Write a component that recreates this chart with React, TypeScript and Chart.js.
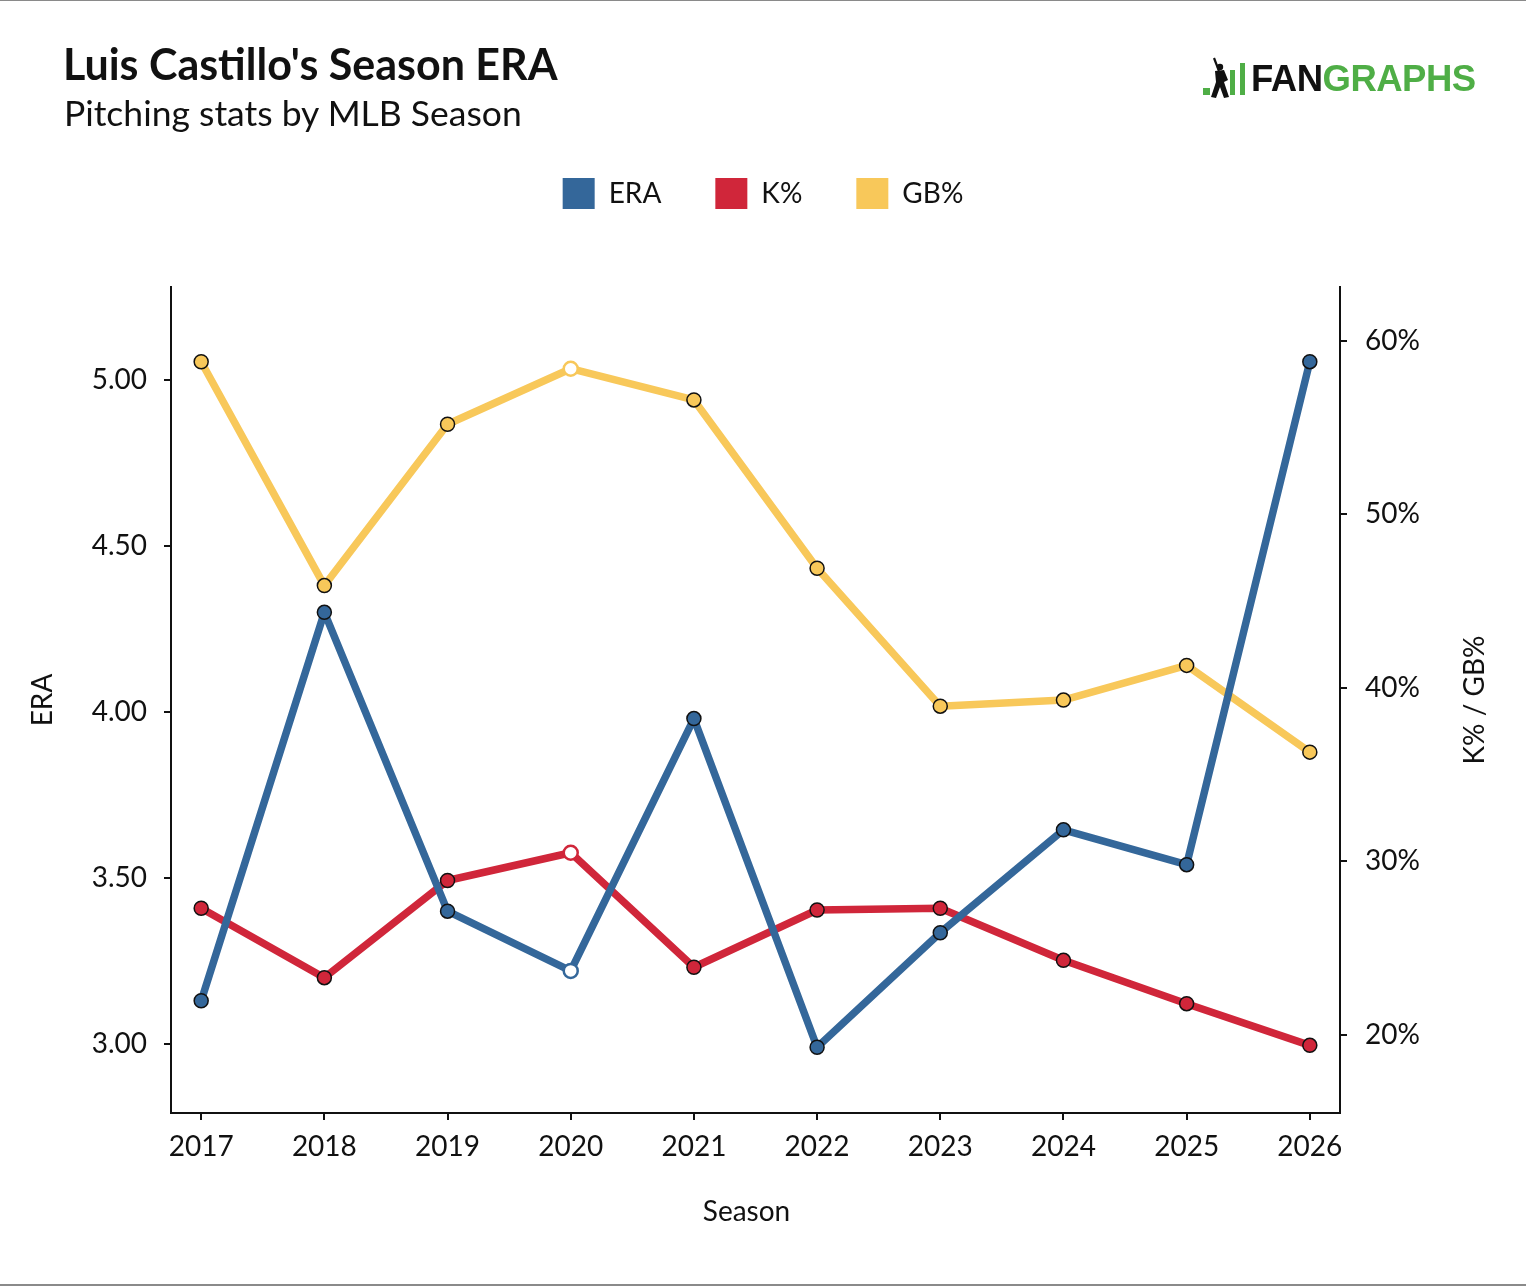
import React, { useEffect, useRef } from 'react';
import { Chart, registerables } from 'chart.js';

Chart.register(...registerables);

const SEASONS = [2017, 2018, 2019, 2020, 2021, 2022, 2023, 2024, 2025, 2026];
const ERA = [3.13, 4.30, 3.40, 3.22, 3.98, 2.99, 3.335, 3.645, 3.54, 5.055];
const K_PCT = [27.3, 23.3, 28.9, 30.5, 23.9, 27.2, 27.3, 24.3, 21.8, 19.4];
const GB_PCT = [58.8, 45.9, 55.2, 58.4, 56.6, 46.9, 38.95, 39.3, 41.3, 36.3];
const ERA_TICKS = [3, 3.5, 4, 4.5, 5];
const PCT_TICKS = [20, 30, 40, 50, 60];
const HIGHLIGHT_SEASON = 2020;

const COLORS = { era: '#34679a', k: '#d0263a', gb: '#f8c85a' };
const INK = '#111111';
const FONT = 'Lato, "Noto Sans", sans-serif';

const W = 1526;
const H = 1286;

function makeDataset(label: string, values: number[], color: string, axis: string) {
  return {
    label,
    data: SEASONS.map((s, i) => ({ x: s, y: values[i] })),
    yAxisID: axis,
    borderColor: color,
    backgroundColor: color,
    borderWidth: 7.5,
    borderCapStyle: 'round',
    borderJoinStyle: 'round',
    tension: 0,
    pointRadius: 7,
    pointHoverRadius: 7,
    pointBackgroundColor: SEASONS.map((s) => (s === HIGHLIGHT_SEASON ? '#ffffff' : color)),
    pointBorderColor: SEASONS.map((s) => (s === HIGHLIGHT_SEASON ? color : INK)),
    pointBorderWidth: SEASONS.map((s) => (s === HIGHLIGHT_SEASON ? 2.5 : 1.5)),
  };
}

const legendSpacer = {
  id: 'legendSpacer',
  beforeInit(chart: any) {
    const legend = chart.legend;
    if (!legend) return;
    const orig = legend.fit;
    legend.fit = function () {
      orig.call(this);
      this.height += 68;
    };
  },
};

const axisTitles = {
  id: 'axisTitles',
  afterDraw(chart: any) {
    const ctx = chart.ctx;
    const area = chart.chartArea;
    ctx.save();
    ctx.fillStyle = INK;
    ctx.font = `28px ${FONT}`;
    ctx.textAlign = 'center';
    ctx.textBaseline = 'middle';
    const s = chart.scales.y1;
    if (s) {
      ctx.save();
      ctx.translate(s.right - 51, (area.top + area.bottom) / 2);
      ctx.rotate(-Math.PI / 2);
      ctx.fillText('K% / GB%', 0, 0);
      ctx.restore();
    }
    const x = chart.scales.x;
    if (x) {
      ctx.fillText('Season', (area.left + area.right) / 2 - 9, x.bottom - 74);
    }
    ctx.restore();
  },
};

const axisGrid = {
  display: true,
  drawOnChartArea: false,
  drawTicks: true,
  tickLength: 7,
  color: INK,
  lineWidth: 2,
};
const axisBorder = { display: true, color: INK, width: 2 };
const tickFont = { family: FONT, size: 28 };

export default function App() {
  const ref = useRef<HTMLCanvasElement | null>(null);

  useEffect(() => {
    document.body.style.margin = '0';
    if (!ref.current) return;
    const chart = new Chart(ref.current, {
      type: 'line',
      data: {
        datasets: [
          makeDataset('ERA', ERA, COLORS.era, 'y'),
          makeDataset('K%', K_PCT, COLORS.k, 'y1'),
          makeDataset('GB%', GB_PCT, COLORS.gb, 'y1'),
        ] as any,
      },
      options: {
        responsive: false,
        animation: false,
        events: [],
        layout: { padding: { top: 124, left: 0, right: 0, bottom: 0 } },
        plugins: {
          tooltip: { enabled: false },
          legend: {
            display: true,
            position: 'top',
            labels: {
              boxWidth: 32,
              boxHeight: 31,
              padding: 54,
              color: INK,
              font: { family: FONT, size: 28 },
              generateLabels: (c: any) =>
                c.data.datasets.map((ds: any, i: number) => ({
                  text: ds.label,
                  fillStyle: ds.backgroundColor,
                  strokeStyle: ds.backgroundColor,
                  lineWidth: 0,
                  hidden: false,
                  datasetIndex: i,
                  fontColor: INK,
                })),
            },
          },
        },
        scales: {
          x: {
            type: 'linear',
            min: 2016.755,
            max: 2026.245,
            afterBuildTicks: (s: any) => {
              s.ticks = SEASONS.map((v) => ({ value: v }));
            },
            afterFit: (s: any) => {
              s.height = 173;
            },
            ticks: {
              callback: (v: any) => String(v),
              font: tickFont,
              color: INK,
              padding: 10,
              maxRotation: 0,
              autoSkip: false,
            },
            grid: axisGrid,
            border: axisBorder,
            title: { display: false },
          },
          y: {
            type: 'linear',
            position: 'left',
            min: 2.792,
            max: 5.28,
            afterBuildTicks: (s: any) => {
              s.ticks = ERA_TICKS.map((v) => ({ value: v }));
            },
            afterFit: (s: any) => {
              s.width = 171;
            },
            ticks: {
              callback: (v: any) => Number(v).toFixed(2),
              font: tickFont,
              color: INK,
              padding: 17,
            },
            grid: axisGrid,
            border: axisBorder,
            title: {
              display: true,
              text: 'ERA',
              color: INK,
              font: tickFont,
              padding: { top: 26, bottom: 0 },
            },
          },
          y1: {
            type: 'linear',
            position: 'right',
            min: 15.5,
            max: 63.11,
            afterBuildTicks: (s: any) => {
              s.ticks = PCT_TICKS.map((v) => ({ value: v }));
            },
            afterFit: (s: any) => {
              s.width = 186;
            },
            ticks: {
              callback: (v: any) => `${v}%`,
              font: tickFont,
              color: INK,
              padding: 18,
            },
            grid: axisGrid,
            border: axisBorder,
            title: { display: false },
          },
        },
      } as any,
      plugins: [legendSpacer, axisTitles] as any,
    });
    return () => chart.destroy();
  }, []);

  return (
    <div style={{ position: 'relative', width: W, height: H, background: '#ffffff', overflow: 'hidden' }}>
      <canvas ref={ref} width={W} height={H} style={{ position: 'absolute', left: 0, top: 0, width: W, height: H }} />
      <div style={{ position: 'absolute', left: 0, top: 0, width: W, height: 1, background: '#8a8a8a' }} />
      <div style={{ position: 'absolute', left: 0, top: H - 2, width: W, height: 2, background: '#8a8a8a' }} />
      <div
        style={{
          position: 'absolute',
          left: 63,
          top: 42,
          fontFamily: FONT,
          fontWeight: 700,
          fontSize: 43,
          lineHeight: 1,
          color: INK,
          whiteSpace: 'nowrap',
        }}
      >
        Luis Castillo's Season ERA
      </div>
      <div
        style={{
          position: 'absolute',
          left: 64,
          top: 95,
          fontFamily: FONT,
          fontWeight: 400,
          fontSize: 35.5,
          lineHeight: 1,
          color: INK,
          whiteSpace: 'nowrap',
        }}
      >
        Pitching stats by MLB Season
      </div>
      <div style={{ position: 'absolute', left: 1201, top: 57, width: 290, height: 44 }}>
        <svg width={52} height={44} style={{ position: 'absolute', left: 0, top: 0 }}>
          <rect x={2} y={31} width={7} height={7} fill="#4fae46" />
          <rect x={29} y={13} width={5} height={25} fill="#4fae46" />
          <rect x={39} y={6} width={5} height={32} fill="#4fae46" />
          <circle cx={19} cy={10} r={3.2} fill="#111" />
          <path d="M14 14 L23 13 L27 23 L23 25 L28 40 L23 41 L19 30 L15 41 L10 40 L15 25 Z" fill="#111" />
          <path d="M18 14 L13 1" stroke="#111" strokeWidth={2.2} />
        </svg>
        <div
          style={{
            position: 'absolute',
            left: 50,
            top: 0,
            fontFamily: '"Liberation Sans", Arial, sans-serif',
            fontWeight: 700,
            fontSize: 36.5,
            lineHeight: '44px',
            letterSpacing: -0.5,
            whiteSpace: 'nowrap',
          }}
        >
          <span style={{ color: INK }}>FAN</span>
          <span style={{ color: '#4fae46' }}>GRAPHS</span>
        </div>
      </div>
    </div>
  );
}
